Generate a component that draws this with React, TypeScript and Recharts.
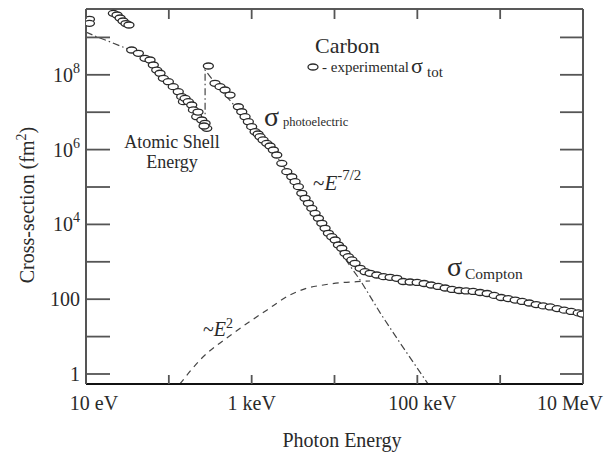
import React from 'react';
import { ComposedChart, Scatter, Line, XAxis, YAxis } from 'recharts';

const FONT = '"Liberation Serif", "DejaVu Serif", serif';
const INK = '#2a2a2a';
const AXIS = '#555';

// measured total cross-section of carbon, photon energy in eV, sigma in fm^2
// below the K shell edge (~284 eV)
const belowEdgeEnergy = [
  11, 11, 21.4, 23.7, 25.8, 28, 30.4, 33,
  35.6, 42.9, 51.6, 59.3, 65, 71.4, 78.3, 85.9, 98.7, 113, 130, 143, 150, 157,
  172, 189, 198, 217, 225, 250, 274, 287, 266,
];
const belowEdgeSigma = [
  3.05e9, 2.38e9, 4.41e9, 3.97e9, 3.3e9, 2.75e9, 2.35e9, 2.15e9,
  4.6e8, 3.76e8, 2.76e8, 2.49e8, 1.83e8, 1.34e8, 1.1e8, 8.06e7, 6.54e7, 4.81e7, 3.53e7, 2.6e7, 1.91e7, 2.35e7,
  1.91e7, 1.56e7, 1.15e7, 7.58e6, 1.01e7, 6.18e6, 5.05e6, 3.71e6, 4.28e6,
];

// above the edge, photoelectric region
const aboveEdgeEnergy = [
  300, 361, 415, 477, 548, 691, 759, 832, 912, 1000, 1100, 1195, 1263, 1373, 1521, 1667, 1828, 2009, 2311, 2655,
  3050, 3340, 3665, 4030, 4415, 4840, 5320, 5830, 6400, 7030, 7700, 8440, 9270, 10200, 11150, 12250, 13400,
  14700, 16200, 17700, 20400, 23400, 26900, 32400, 39000, 46900, 56500,
];
const aboveEdgeSigma = [
  1.72e8, 5.93e7, 4.81e7, 3.92e7, 2.88e7, 1.4e7, 1.03e7, 7.58e6, 5.57e6, 4.1e6, 3.01e6, 2.61e6, 2.21e6, 1.81e6,
  1.47e6, 1.25e6, 9.76e5, 7.17e5, 4.3e5, 2.57e5, 1.88e5, 1.39e5, 1.02e5, 6.79e4, 4.99e4, 3.67e4, 2.69e4, 1.98e4,
  1.46e4, 1.07e4, 7870, 5780, 4690, 3830, 2810, 2300, 1690, 1370, 1120, 912, 670, 543, 493, 444, 400, 385, 362,
];

// Compton region
const comptonExpEnergy = [
  67400, 81800, 99500, 120800, 146800, 178300, 216700, 263000, 320000, 388000, 472000, 573000, 697000, 847000,
  1028000, 1250000, 1518000, 1845000, 2240000, 2722000, 3306000, 4018000, 4880000, 5930000, 7200000, 8750000, 9770000,
];
const comptonExpSigma = [
  297, 288, 280, 263, 240, 219, 199, 182, 171, 166, 161, 151, 142, 126,
  111, 104, 95, 87, 79, 72, 66, 62, 56, 51, 47, 43, 40,
];

// photoelectric calculation (dash-dot), with the jump at the K edge
const photoEnergy = [10, 13.6, 18.5, 25.8, 34.9, 59.3, 103, 180, 274, 274, 361, 724, 1667, 3845, 8850, 15400, 20400, 35600, 62000, 135000];
const photoSigma = [1.39e9, 1.03e9, 8.0e8, 5.9e8, 4.6e8, 2.34e8, 6.4e7, 1.47e7, 4.0e6, 1.34e8, 6.0e7, 1.01e7, 1.17e6, 8.3e4, 4900, 772, 326, 43, 6.7, 0.54];

// Compton calculation (dashed), ~E^2 at low energy
const comptonEnergy = [136, 238, 601, 1521, 2910, 4630, 7340, 11700, 18600, 26900];
const comptonSigma = [0.54, 2.37, 12.3, 51, 130, 196, 240, 276, 294, 307];

const xTicks = [10, 100, 1e3, 1e4, 1e5, 1e6, 1e7];
const xTickLabels: Record<number, string> = { 10: '10 eV', 1000: '1 keV', 100000: '100 keV', 10000000: '10 MeV' };
const yTicks = [1, 10, 100, 1e3, 1e4, 1e5, 1e6, 1e7, 1e8, 1e9];
const yLabelled = [1, 100, 1e4, 1e6, 1e8];

const zip = (e: number[], s: number[]) => e.map((v, i) => ({ e: v, s: s[i] }));
const expData = [
  ...zip(belowEdgeEnergy, belowEdgeSigma),
  ...zip(aboveEdgeEnergy, aboveEdgeSigma),
  ...zip(comptonExpEnergy, comptonExpSigma),
];
const photoData = zip(photoEnergy, photoSigma);
const comptonData = zip(comptonEnergy, comptonSigma);

// label nudges as in the original figure
const xLabelShift: Record<number, number> = { 10: 8, 1000: 0, 100000: 5, 10000000: -13 };

// plot box in page pixels
const BOX = { left: 86, right: 583, top: 9, bottom: 384 };

const BottomTick = (props: any) => {
  const { x, payload } = props;
  const y = BOX.bottom;
  const label = xTickLabels[payload.value];
  return (
    <g>
      <line x1={x} x2={x} y1={y} y2={y - 9} stroke={AXIS} strokeWidth={1.8} />
      {label && (
        <text x={x + (xLabelShift[payload.value] ?? 0)} y={y + 26} textAnchor="middle" fontSize={20} fontFamily={FONT} fill={INK}>
          {label}
        </text>
      )}
    </g>
  );
};

const TopTick = (props: any) => {
  const { x } = props;
  const y = BOX.top;
  return <line x1={x} x2={x} y1={y} y2={y + 10} stroke={AXIS} strokeWidth={1.8} />;
};

const LeftTick = (props: any) => {
  const { y, payload } = props;
  const x = BOX.left;
  const v = payload.value;
  const exp = Math.round(Math.log10(v));
  let label: React.ReactNode = null;
  if (yLabelled.includes(v)) {
    label =
      exp <= 2 ? (
        <text x={x - 6} y={y + 7} textAnchor="end" fontSize={20} fontFamily={FONT} fill={INK}>
          {String(v)}
        </text>
      ) : (
        <text x={x - 6} y={y + 7} textAnchor="end" fontSize={20} fontFamily={FONT} fill={INK}>
          10
          <tspan fontSize={14} dy={-9}>
            {exp}
          </tspan>
        </text>
      );
  }
  return (
    <g>
      <line x1={x} x2={x + 24} y1={y} y2={y} stroke={AXIS} strokeWidth={1.8} />
      {label}
    </g>
  );
};

const RightTick = (props: any) => {
  const { y } = props;
  const x = BOX.right;
  return <line x1={x} x2={x - 23} y1={y} y2={y} stroke={AXIS} strokeWidth={1.8} />;
};

const Oval = (props: any) => {
  const { cx, cy } = props;
  if (cx == null || cy == null) return <g />;
  return <ellipse cx={cx} cy={cy} rx={5} ry={3} fill="#fff" stroke="#2a2a2a" strokeWidth={1.3} />;
};

const txt = { fontFamily: FONT, fill: INK };

export default function App() {
  return (
    <div style={{ position: 'absolute', left: 0, top: 0, width: 608, height: 457, background: '#fff' }}>
      <ComposedChart width={608} height={457} margin={{ top: 8, right: 24, bottom: 72, left: 85 }}>
        <XAxis
          dataKey="e"
          type="number"
          scale="log"
          domain={[10, 1e7]}
          allowDataOverflow
          ticks={xTicks}
          interval={0}
          height={1}
          tickSize={0}
          tickMargin={0}
          tickLine={false}
          axisLine={{ stroke: '#111', strokeWidth: 2 }}
          tick={<BottomTick />}
        />
        <XAxis
          xAxisId="top"
          orientation="top"
          dataKey="e"
          type="number"
          scale="log"
          domain={[10, 1e7]}
          allowDataOverflow
          ticks={xTicks}
          interval={0}
          height={1}
          tickSize={0}
          tickMargin={0}
          tickLine={false}
          axisLine={{ stroke: '#222', strokeWidth: 1.6 }}
          tick={<TopTick />}
        />
        <YAxis
          type="number"
          scale="log"
          domain={[0.54, 5.75e9]}
          allowDataOverflow
          ticks={yTicks}
          interval={0}
          width={1}
          tickSize={0}
          tickMargin={0}
          tickLine={false}
          axisLine={{ stroke: AXIS, strokeWidth: 2 }}
          tick={<LeftTick />}
        />
        <YAxis
          yAxisId="right"
          orientation="right"
          type="number"
          scale="log"
          domain={[0.54, 5.75e9]}
          allowDataOverflow
          ticks={yTicks}
          interval={0}
          width={1}
          tickSize={0}
          tickMargin={0}
          tickLine={false}
          axisLine={{ stroke: AXIS, strokeWidth: 2 }}
          tick={<RightTick />}
        />
        <Line
          data={photoData}
          dataKey="s"
          type="linear"
          stroke="#444"
          strokeWidth={1.2}
          strokeDasharray="7 3 1.5 3"
          dot={false}
          activeDot={false}
          isAnimationActive={false}
        />
        <Line
          data={comptonData}
          dataKey="s"
          type="monotone"
          stroke="#444"
          strokeWidth={1.2}
          strokeDasharray="6 5"
          dot={false}
          activeDot={false}
          isAnimationActive={false}
        />
        <Scatter data={expData} dataKey="s" shape={<Oval />} isAnimationActive={false} />
      </ComposedChart>

      <svg width={608} height={457} style={{ position: 'absolute', left: 0, top: 0, pointerEvents: 'none' }}>
        <text x={315} y={53} fontSize={22} {...txt}>Carbon</text>
        <ellipse cx={313} cy={67} rx={5} ry={3} fill="#fff" stroke="#2a2a2a" strokeWidth={1.3} />
        <text x={322} y={72} fontSize={15} {...txt}>- experimental</text>
        <text x={411} y={73} fontSize={22} {...txt}>σ</text>
        <text x={427} y={77} fontSize={15} {...txt}>tot</text>

        <text x={264} y={126} fontSize={28} {...txt}>σ</text>
        <text x={283} y={126} fontSize={12.5} {...txt}>photoelectric</text>

        <text x={172} y={148} fontSize={18} textAnchor="middle" {...txt}>Atomic Shell</text>
        <text x={172} y={168} fontSize={18} textAnchor="middle" {...txt}>Energy</text>

        <text x={313} y={190} fontSize={21} {...txt}>
          ~<tspan fontStyle="italic">E</tspan>
          <tspan fontSize={15} dy={-10}>-7/2</tspan>
        </text>

        <text x={447} y={276} fontSize={28} {...txt}>σ</text>
        <text x={465} y={279} fontSize={15.5} {...txt}>Compton</text>

        <text x={203} y={336} fontSize={20} {...txt}>
          ~<tspan fontStyle="italic">E</tspan>
          <tspan fontSize={14} dy={-8}>2</tspan>
        </text>

        <text x={342} y={447} fontSize={20} textAnchor="middle" {...txt}>Photon Energy</text>
        <text transform="rotate(-90)" x={-205} y={34} fontSize={20} textAnchor="middle" {...txt}>
          Cross-section (fm<tspan fontSize={14} dy={-8}>2</tspan>
          <tspan dy={8}>)</tspan>
        </text>
      </svg>
    </div>
  );
}
